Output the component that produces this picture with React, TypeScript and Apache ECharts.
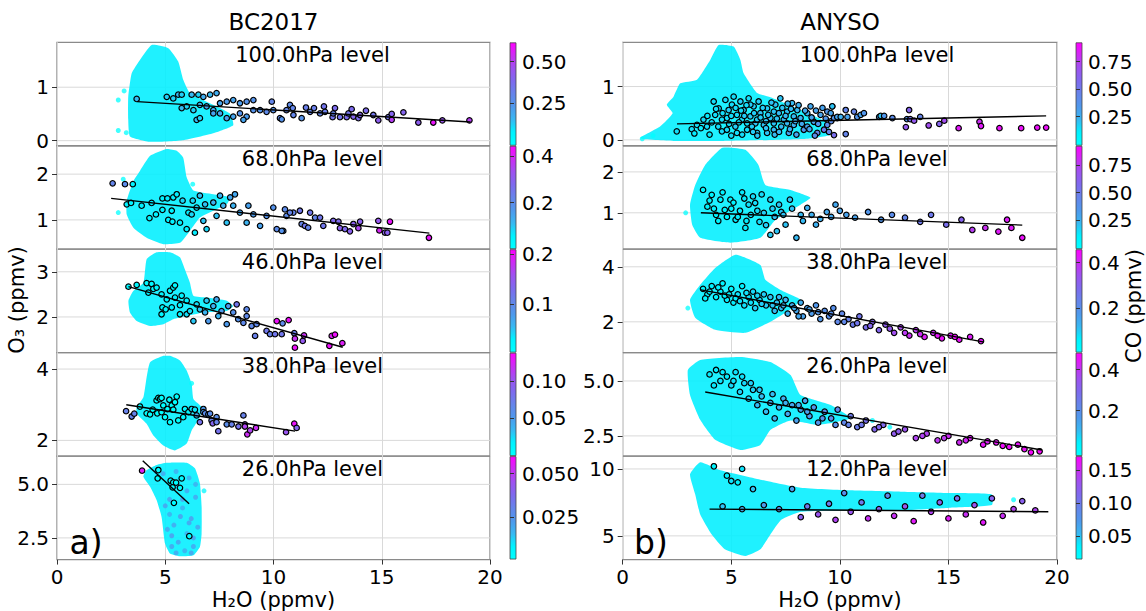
import React, { useEffect, useRef } from 'react';
import * as echarts from 'echarts';

const FONT = 'DejaVu Sans';
const CMAP = ['#00ffff', '#00f2ff', '#38b8f2', '#4f98ec', '#6684ea', '#7e6aee', '#9e52f0', '#cc2cf4', '#ff00ff'];

const TITLES = ['BC2017', 'ANYSO'];
const LEVELS_A = ['100.0hPa level', '68.0hPa level', '46.0hPa level', '38.0hPa level', '26.0hPa level'];
const LEVELS_B = ['100.0hPa level', '68.0hPa level', '38.0hPa level', '26.0hPa level', '12.0hPa level'];
const Y_RANGE_A = [[-0.095, 1.84], [0.36, 2.62], [1.21, 3.5], [1.56, 4.46], [1.49, 6.32]];
const Y_RANGE_B = [[-0.11, 1.83], [0.11, 2.64], [0.88, 4.64], [1.58, 6.29], [3.23, 10.96]];
const Y_TICKS_A = [[0, 1], [1, 2], [2, 3], [2, 4], [2.5, 5]];
const Y_TICKS_B = [[0, 1], [1, 2], [2, 4], [2.5, 5], [5, 10]];
const Y_DIGITS_A = [0, 0, 0, 0, 1];
const Y_DIGITS_B = [0, 0, 0, 1, 0];
const CB_RANGE_A = [[0, 0.613], [0, 0.444], [0.006, 0.208], [0, 0.137], [0.001, 0.0597]];
const CB_RANGE_B = [[-0.01, 0.92], [-0.01, 0.92], [0.009, 0.457], [-0.02, 0.48], [0.015, 0.171]];
const CB_TICKS_A = [[0.25, 0.5], [0.2, 0.4], [0.1, 0.2], [0.05, 0.1], [0.025, 0.05]];
const CB_TICKS_B = [[0.25, 0.5, 0.75], [0.25, 0.5, 0.75], [0.2, 0.4], [0.2, 0.4], [0.05, 0.1, 0.15]];
const CB_DIGITS_A = [2, 1, 1, 2, 3];
const CB_DIGITS_B = [2, 2, 1, 1, 2];

// ---------- BC2017 ----------
const A1_CLOUD = [[4.37, 1.79], [3.83, 1.51], [3.45, 1.26], [3.29, 0.82], [3.29, 0.39], [3.37, 0.08], [4.3, -0.02], [5.83, 0.01], [7.22, 0.14], [8.14, 0.29], [7.99, 0.51], [6.91, 0.73], [6.14, 0.89], [5.83, 1.14], [5.6, 1.48], [5.14, 1.73]];
const A1_SPECK = [[2.83, 0.76, 0], [2.83, 0.19, 0], [3.1, 0.93, 0], [3.2, 0.15, 0]];
const A1_PTS = [[3.68, 0.78, 0.15], [5.07, 0.82, 0.12], [5.37, 0.79, 0.12], [5.6, 0.86, 0.15], [5.76, 0.86, 0.12], [6.22, 0.86, 0.15], [6.53, 0.86, 0.12], [6.76, 0.82, 0.18], [7.07, 0.86, 0.15], [7.37, 0.89, 0.18], [5.99, 0.64, 0.12], [5.76, 0.61, 0.15], [6.3, 0.57, 0.12], [6.6, 0.67, 0.15], [6.91, 0.64, 0.2], [7.22, 0.57, 0.18], [7.53, 0.7, 0.2], [7.84, 0.73, 0.22], [8.14, 0.76, 0.2], [8.45, 0.7, 0.22], [8.76, 0.73, 0.25], [9.07, 0.76, 0.25], [6.45, 0.39, 0.15], [6.6, 0.42, 0.12], [7.22, 0.51, 0.2], [7.53, 0.51, 0.2], [7.84, 0.42, 0.22], [8.14, 0.45, 0.2], [8.45, 0.51, 0.25], [8.76, 0.45, 0.22], [8.61, 0.39, 0.2], [9.07, 0.57, 0.25], [9.38, 0.57, 0.25], [9.68, 0.54, 0.28], [9.99, 0.57, 0.25], [10.3, 0.42, 0.28], [10.6, 0.57, 0.3], [10.76, 0.67, 0.28], [10.92, 0.48, 0.3], [9.92, 0.73, 0.3], [10.38, 0.4, 0.25], [10.89, 0.61, 0.3], [11.3, 0.42, 0.25], [11.5, 0.62, 0.32], [11.69, 0.54, 0.3], [11.87, 0.61, 0.32], [12.15, 0.51, 0.3], [12.33, 0.64, 0.35], [12.38, 0.54, 0.32], [12.73, 0.44, 0.35], [12.76, 0.51, 0.3], [12.84, 0.61, 0.38], [13.07, 0.44, 0.35], [13.38, 0.44, 0.38], [13.46, 0.51, 0.35], [13.61, 0.59, 0.38], [13.69, 0.45, 0.4], [13.92, 0.42, 0.38], [14.0, 0.48, 0.4], [14.27, 0.56, 0.38], [14.61, 0.48, 0.35], [14.84, 0.38, 0.42], [15.3, 0.44, 0.35], [15.46, 0.5, 0.4], [15.46, 0.39, 0.5], [16.0, 0.53, 0.4], [16.69, 0.34, 0.42], [17.38, 0.34, 0.58], [17.8, 0.38, 0.45], [19.05, 0.38, 0.5]];
const A1_LINE = [[3.7, 0.73], [19.1, 0.35]];

const A2_CLOUD = [[5.07, 2.55], [4.3, 2.4], [3.83, 2.07], [3.53, 1.85], [3.22, 1.42], [3.22, 1.12], [3.53, 0.83], [4.14, 0.61], [4.91, 0.47], [5.68, 0.5], [6.14, 0.76], [6.6, 1.05], [7.22, 1.2], [7.84, 1.34], [8.0, 1.49], [7.22, 1.56], [6.3, 1.64], [5.99, 1.93], [5.83, 2.36], [5.53, 2.51]];
const A2_SPECK = [[2.83, 1.16, 0], [3.06, 1.89, 0], [6.27, 1.78, 0]];
const A2_PTS = [[2.57, 1.8, 0.22], [3.14, 1.78, 0.2], [3.5, 1.78, 0.05], [3.22, 1.34, 0.05], [3.42, 1.37, 0.05], [3.91, 1.31, 0.05], [4.37, 1.37, 0.05], [4.27, 1.04, 0.05], [4.57, 1.12, 0.05], [4.87, 1.22, 0.05], [4.87, 1.47, 0.05], [5.1, 1.47, 0.06], [5.14, 1.0, 0.05], [5.33, 0.96, 0.05], [5.3, 1.2, 0.05], [5.37, 1.49, 0.06], [5.53, 1.56, 0.06], [5.68, 0.94, 0.05], [5.8, 1.42, 0.08], [5.99, 0.8, 0.05], [6.07, 1.16, 0.06], [6.22, 1.12, 0.08], [6.37, 0.72, 0.06], [6.27, 1.42, 0.08], [6.45, 1.27, 0.08], [6.6, 1.53, 0.1], [6.76, 0.98, 0.1], [6.91, 0.8, 0.08], [6.84, 1.34, 0.1], [7.22, 1.38, 0.12], [7.37, 1.09, 0.1], [7.53, 1.53, 0.12], [7.68, 1.31, 0.12], [7.84, 0.94, 0.1], [8.0, 1.49, 0.14], [8.14, 1.31, 0.12], [8.22, 1.56, 0.14], [8.45, 1.16, 0.14], [8.76, 0.94, 0.12], [8.84, 1.31, 0.15], [9.07, 1.12, 0.16], [9.38, 0.87, 0.15], [9.68, 1.09, 0.18], [9.99, 1.27, 0.18], [10.15, 0.8, 0.2], [10.45, 0.76, 0.18], [10.6, 1.09, 0.2], [10.92, 1.16, 0.22], [10.38, 0.76, 0.18], [10.53, 1.23, 0.2], [10.76, 1.16, 0.22], [11.22, 1.2, 0.25], [11.3, 0.91, 0.22], [11.45, 0.87, 0.25], [11.6, 0.83, 0.22], [11.69, 1.16, 0.25], [11.92, 1.05, 0.22], [12.15, 1.05, 0.25], [12.3, 0.87, 0.25], [12.76, 0.98, 0.28], [13.0, 0.96, 0.28], [13.07, 0.82, 0.3], [13.3, 0.8, 0.28], [13.53, 0.75, 0.3], [13.69, 0.91, 0.3], [13.92, 0.82, 0.35], [14.0, 0.96, 0.3], [14.84, 0.98, 0.32], [14.89, 0.77, 0.4], [15.15, 0.72, 0.3], [15.26, 0.72, 0.3], [15.38, 0.96, 0.42], [17.18, 0.61, 0.42]];
const A2_LINE = [[2.5, 1.47], [17.2, 0.71]];

const A3_CLOUD = [[4.6, 3.43], [4.14, 3.28], [3.99, 2.76], [3.53, 2.58], [3.3, 2.36], [3.37, 2.1], [3.68, 1.91], [4.3, 1.8], [4.91, 1.84], [5.37, 1.95], [5.99, 2.02], [6.76, 2.1], [7.84, 2.13], [8.14, 2.24], [7.84, 2.36], [6.91, 2.43], [6.3, 2.47], [6.14, 2.76], [5.9, 3.06], [5.68, 3.32], [5.22, 3.43]];
const A3_SPECK = [[4.6, 3.52, 0]];
const A3_PTS = [[3.3, 2.67, 0.02], [3.68, 2.71, 0.02], [4.14, 2.75, 0.02], [4.37, 2.73, 0.02], [4.22, 2.54, 0.02], [4.45, 2.62, 0.02], [4.6, 2.65, 0.02], [4.83, 2.5, 0.02], [5.07, 2.39, 0.02], [4.87, 2.21, 0.02], [4.83, 2.06, 0.02], [5.02, 2.17, 0.02], [5.3, 2.21, 0.03], [5.22, 2.58, 0.02], [5.37, 2.65, 0.02], [5.45, 2.7, 0.02], [5.45, 2.43, 0.03], [5.68, 2.26, 0.03], [5.76, 2.47, 0.03], [5.68, 2.06, 0.03], [5.99, 2.06, 0.04], [6.14, 2.13, 0.04], [5.99, 2.36, 0.03], [6.3, 1.91, 0.05], [6.45, 2.28, 0.04], [6.6, 2.17, 0.05], [6.84, 2.1, 0.06], [6.91, 2.36, 0.05], [6.99, 1.91, 0.08], [7.22, 2.24, 0.06], [7.37, 2.39, 0.07], [7.45, 2.02, 0.06], [7.6, 2.13, 0.08], [7.84, 1.84, 0.08], [7.91, 2.24, 0.08], [8.14, 2.1, 0.09], [8.3, 2.28, 0.12], [8.37, 1.95, 0.09], [8.61, 1.87, 0.1], [8.76, 2.02, 0.1], [8.76, 2.17, 0.1], [8.99, 1.8, 0.1], [9.15, 1.58, 0.11], [9.22, 1.84, 0.1], [9.68, 1.69, 0.12], [9.84, 1.62, 0.11], [10.07, 1.62, 0.12], [10.15, 1.91, 0.2], [10.38, 1.62, 0.12], [10.42, 1.86, 0.1], [10.7, 1.93, 0.2], [10.96, 1.64, 0.11], [10.99, 1.52, 0.18], [10.99, 1.32, 0.2], [11.35, 1.47, 0.15], [11.41, 1.59, 0.18], [12.58, 1.36, 0.2], [12.69, 1.58, 0.19], [12.84, 1.61, 0.2], [13.18, 1.42, 0.19]];
const A3_LINE = [[3.3, 2.67], [13.2, 1.33]];

const A4_CLOUD = [[4.91, 4.37], [4.3, 4.19], [4.14, 3.77], [3.99, 3.21], [3.68, 2.93], [3.68, 2.75], [4.14, 2.47], [4.45, 2.14], [4.91, 1.86], [5.45, 1.72], [5.99, 1.91], [6.22, 2.28], [6.6, 2.65], [6.68, 2.93], [6.3, 3.16], [6.22, 3.58], [5.99, 3.96], [5.68, 4.24], [5.22, 4.37]];
const A4_SPECK = [[6.22, 3.6, 0]];
const A4_PTS = [[3.19, 2.82, 0.07], [3.45, 2.67, 0.07], [3.57, 2.75, 0.07], [3.83, 2.95, 0.0], [4.14, 2.76, 0.0], [4.3, 2.73, 0.0], [4.42, 2.86, 0.0], [4.6, 3.12, 0.0], [4.68, 3.19, 0.0], [4.76, 3.16, 0.0], [4.83, 3.19, 0.0], [4.63, 2.76, 0.0], [4.83, 2.79, 0.0], [4.91, 2.98, 0.0], [4.99, 2.65, 0.0], [5.1, 2.88, 0.0], [5.19, 3.14, 0.0], [5.22, 2.51, 0.0], [5.3, 2.98, 0.0], [5.37, 2.86, 0.0], [5.45, 3.07, 0.0], [5.53, 3.23, 0.0], [5.6, 2.56, 0.0], [5.83, 2.65, 0.01], [5.91, 2.88, 0.01], [6.07, 2.79, 0.01], [6.22, 2.88, 0.02], [6.37, 2.86, 0.02], [6.45, 2.7, 0.04], [6.6, 2.51, 0.08], [6.76, 2.88, 0.05], [6.76, 2.79, 0.05], [6.84, 2.76, 0.06], [6.99, 2.73, 0.05], [7.07, 2.75, 0.06], [7.14, 2.56, 0.07], [7.19, 2.48, 0.09], [7.37, 2.65, 0.06], [7.37, 2.51, 0.07], [7.45, 2.26, 0.08], [7.84, 2.45, 0.06], [8.07, 2.45, 0.07], [8.38, 2.39, 0.08], [8.61, 2.7, 0.07], [8.68, 2.45, 0.1], [8.68, 2.39, 0.11], [8.79, 2.17, 0.12], [8.92, 2.28, 0.11], [9.19, 2.35, 0.12], [10.58, 2.23, 0.1], [10.96, 2.47, 0.13], [11.07, 2.35, 0.09]];
const A4_LINE = [[3.2, 3.0], [11.0, 2.26]];

const A5_CLOUD = [[4.14, 5.67], [4.6, 5.91], [5.07, 6.01], [5.99, 6.01], [6.37, 5.75], [6.6, 5.05], [6.68, 3.95], [6.68, 2.7], [6.6, 2.08], [6.3, 1.69], [5.68, 1.64], [5.22, 1.77], [4.99, 2.24], [4.83, 3.48], [4.6, 4.27], [4.3, 4.89], [3.99, 5.36]];
const A5_SPECK = [[5.2, 4.3, 0.024], [5.8, 3.9, 0.02], [6.2, 3.4, 0.026], [5.4, 3.1, 0.022], [6.0, 2.7, 0.02], [5.6, 2.3, 0.024], [6.3, 2.1, 0.022], [5.9, 1.9, 0.02], [5.3, 2.6, 0.026], [6.4, 4.4, 0.022], [5.0, 4.0, 0.024], [6.1, 5.3, 0.02], [5.5, 5.6, 0.02], [4.9, 5.5, 0.022], [6.5, 3.0, 0.022], [5.7, 3.5, 0.025], [6.0, 4.7, 0.022], [5.2, 3.6, 0.02], [6.3, 2.5, 0.027], [5.5, 1.8, 0.022], [6.4, 5.0, 0.02], [4.6, 5.6, 0.022], [5.8, 4.3, 0.026], [6.2, 1.8, 0.024], [5.1, 2.9, 0.022], [5.6, 4.9, 0.02], [6.1, 3.2, 0.024], [5.3, 2.1, 0.023], [6.79, 4.7, 0.005]];
const A5_PTS = [[3.93, 5.64, 0.055], [4.68, 5.67, 0.003], [4.65, 5.28, 0.003], [5.25, 5.17, 0.003], [5.37, 5.09, 0.003], [5.5, 5.08, 0.003], [5.34, 4.86, 0.003], [5.76, 5.28, 0.003], [5.68, 4.84, 0.003], [5.4, 4.14, 0.003], [6.11, 2.58, 0.003]];
const A5_LINE = [[3.96, 6.1], [6.1, 4.1]];

// ---------- ANYSO ----------
const B1_CLOUD = [[4.42, 1.78], [4.03, 1.5], [3.42, 1.13], [2.65, 1.06], [2.34, 0.81], [2.03, 0.66], [2.3, 0.5], [1.72, 0.25], [0.8, 0.03], [2.34, -0.02], [4.65, -0.02], [6.96, 0.0], [8.5, 0.02], [9.6, 0.1], [9.3, 0.35], [8.0, 0.6], [6.8, 0.8], [6.19, 0.88], [5.57, 1.25], [5.42, 1.5], [5.11, 1.75]];
const B1_SPECK = [[0.9, 0.02, 0], [1.4, 0.08, 0]];
const B1_PTS = [[2.49, 0.16, 0.15], [3.18, 0.2, 0.15], [3.42, 0.28, 0.15], [3.72, 0.38, 0.15], [3.88, 0.25, 0.15], [4.19, 0.72, 0.15], [4.26, 0.47, 0.15], [4.42, 0.59, 0.15], [4.57, 0.16, 0.15], [4.73, 0.75, 0.15], [4.8, 0.41, 0.15], [4.88, 0.56, 0.18], [5.03, 0.66, 0.15], [5.11, 0.81, 0.15], [5.19, 0.25, 0.18], [5.26, 0.47, 0.15], [5.42, 0.72, 0.18], [5.49, 0.38, 0.15], [5.57, 0.56, 0.18], [5.73, 0.19, 0.15], [5.8, 0.78, 0.15], [5.88, 0.44, 0.18], [6.03, 0.63, 0.18], [6.11, 0.31, 0.2], [6.19, 0.13, 0.18], [6.26, 0.72, 0.18], [6.34, 0.5, 0.2], [6.5, 0.28, 0.2], [6.65, 0.59, 0.18], [6.8, 0.41, 0.2], [6.96, 0.19, 0.22], [7.03, 0.66, 0.2], [7.19, 0.5, 0.22], [7.26, 0.78, 0.2], [7.42, 0.38, 0.22], [7.57, 0.53, 0.2], [7.65, 0.13, 0.3], [7.8, 0.69, 0.22], [7.88, 0.28, 0.25], [8.04, 0.56, 0.22], [8.19, 0.41, 0.25], [8.34, 0.19, 0.35], [8.5, 0.5, 0.25], [8.65, 0.63, 0.28], [8.8, 0.34, 0.3], [8.96, 0.13, 0.45], [9.11, 0.47, 0.3], [9.27, 0.19, 0.5], [9.42, 0.53, 0.35], [9.65, 0.63, 0.3], [9.73, 0.09, 0.55], [9.88, 0.41, 0.45], [9.42, 0.28, 0.4], [5.73, 0.31, 0.15], [4.8, 0.19, 0.15], [6.96, 0.31, 0.2], [6.19, 0.38, 0.18], [7.57, 0.31, 0.22], [8.5, 0.25, 0.3], [6.96, 0.53, 0.2], [5.26, 0.13, 0.15], [6.65, 0.13, 0.2], [7.88, 0.44, 0.22], [5.88, 0.66, 0.18], [4.57, 0.38, 0.15], [3.3, 0.12, 0.12], [3.6, 0.22, 0.12], [4.0, 0.1, 0.12], [4.1, 0.33, 0.15], [4.4, 0.25, 0.15], [4.6, 0.5, 0.15], [4.9, 0.3, 0.15], [5.0, 0.08, 0.15], [5.2, 0.6, 0.15], [5.35, 0.33, 0.15], [5.5, 0.1, 0.15], [5.6, 0.45, 0.18], [5.7, 0.65, 0.15], [5.95, 0.25, 0.18], [6.05, 0.5, 0.18], [6.2, 0.08, 0.2], [6.35, 0.42, 0.18], [6.45, 0.6, 0.18], [6.6, 0.22, 0.2], [6.7, 0.47, 0.2], [6.85, 0.7, 0.2], [7.0, 0.1, 0.22], [7.1, 0.4, 0.2], [7.3, 0.25, 0.22], [7.35, 0.6, 0.2], [7.5, 0.45, 0.22], [7.7, 0.2, 0.25], [7.75, 0.58, 0.22], [7.95, 0.35, 0.25], [8.1, 0.65, 0.25], [8.25, 0.3, 0.28], [8.4, 0.55, 0.28], [8.6, 0.2, 0.3], [8.7, 0.42, 0.3], [8.9, 0.55, 0.3], [9.0, 0.3, 0.35], [9.2, 0.6, 0.3], [9.35, 0.4, 0.35], [9.5, 0.15, 0.45], [9.6, 0.35, 0.4], [5.0, 0.45, 0.15], [5.45, 0.55, 0.15], [6.6, 0.35, 0.2], [7.2, 0.15, 0.22], [8.0, 0.1, 0.3], [4.3, 0.58, 0.15], [3.9, 0.45, 0.12], [6.0, 0.15, 0.18], [7.6, 0.68, 0.22], [8.85, 0.08, 0.4], [9.58, 0.5, 0.3], [9.65, 0.63, 0.2], [9.73, 0.41, 0.35], [9.88, 0.43, 0.3], [10.04, 0.43, 0.25], [10.27, 0.56, 0.45], [10.27, 0.11, 0.45], [10.35, 0.43, 0.3], [10.65, 0.53, 0.45], [10.8, 0.43, 0.35], [10.96, 0.47, 0.3], [11.11, 0.5, 0.35], [11.81, 0.43, 0.35], [11.88, 0.45, 0.2], [12.04, 0.45, 0.35], [12.42, 0.41, 0.4], [13.04, 0.24, 0.65], [13.09, 0.39, 0.35], [13.19, 0.56, 0.6], [13.24, 0.39, 0.55], [13.42, 0.36, 0.65], [13.7, 0.43, 0.45], [14.09, 0.27, 0.7], [14.58, 0.3, 0.6], [14.81, 0.36, 0.7], [15.47, 0.22, 0.85], [16.43, 0.34, 0.8], [16.5, 0.26, 0.85], [17.35, 0.22, 0.88], [18.35, 0.22, 0.88], [19.09, 0.23, 0.88], [19.5, 0.23, 0.88]];
const B1_LINE = [[2.5, 0.3], [19.5, 0.45]];

const B2_CLOUD = [[4.59, 2.59], [3.8, 2.17], [3.34, 1.68], [3.1, 1.2], [3.2, 0.71], [3.57, 0.39], [4.96, 0.27], [6.34, 0.39], [7.04, 0.83], [8.19, 1.2], [8.65, 1.37], [7.73, 1.56], [6.57, 1.68], [6.25, 2.17], [5.65, 2.54]];
const B2_SPECK = [[2.9, 1.0, 0]];
const B2_PTS = [[3.7, 1.56, 0.08], [4.1, 1.44, 0.08], [4.5, 1.32, 0.1], [3.9, 1.15, 0.08], [4.3, 0.95, 0.1], [4.7, 1.07, 0.1], [5.2, 0.83, 0.12], [4.96, 1.32, 0.1], [5.5, 1.5, 0.12], [5.9, 0.95, 0.15], [5.65, 0.63, 0.12], [6.1, 1.24, 0.15], [6.3, 0.78, 0.15], [6.8, 1.32, 0.18], [6.8, 0.46, 0.18], [7.3, 1.02, 0.2], [7.5, 0.71, 0.2], [7.7, 1.32, 0.2], [8.0, 0.39, 0.22], [8.2, 0.95, 0.22], [8.5, 1.12, 0.25], [8.9, 0.71, 0.25], [9.4, 1.02, 0.28], [9.8, 1.2, 0.28], [10.3, 0.95, 0.3], [10.7, 0.88, 0.3], [11.3, 1.02, 0.35], [11.9, 0.83, 0.35], [12.4, 0.95, 0.4], [13.0, 0.88, 0.45], [13.7, 0.78, 0.5], [14.2, 0.95, 0.5], [14.9, 0.71, 0.55], [15.6, 0.83, 0.6], [16.1, 0.58, 0.75], [16.7, 0.63, 0.8], [17.3, 0.54, 0.85], [17.9, 0.63, 0.85], [18.4, 0.39, 0.88], [17.7, 0.83, 0.85], [5.0, 1.1, 0.1], [5.3, 0.9, 0.12], [6.0, 1.4, 0.15], [6.5, 1.0, 0.18], [7.0, 0.9, 0.2], [4.4, 0.8, 0.1], [5.8, 1.2, 0.14], [7.2, 1.2, 0.2], [4.0, 1.3, 0.08], [4.2, 1.1, 0.08], [4.6, 1.5, 0.1], [4.8, 0.9, 0.1], [5.1, 1.25, 0.1], [5.4, 1.05, 0.12], [5.6, 1.35, 0.12], [5.7, 0.8, 0.12], [6.2, 1.05, 0.15], [6.4, 1.45, 0.15], [6.6, 0.7, 0.18], [6.9, 1.1, 0.18], [7.1, 0.55, 0.2], [7.4, 0.95, 0.2], [7.8, 1.1, 0.2], [8.3, 0.8, 0.22], [8.7, 0.95, 0.25], [9.1, 0.85, 0.25], [9.6, 0.9, 0.28], [10.0, 1.05, 0.3]];
const B2_LINE = [[3.6, 1.0], [18.4, 0.7]];

const B3_CLOUD = [[5.2, 4.44], [4.26, 3.96], [3.57, 3.35], [3.1, 2.8], [3.34, 2.15], [4.26, 1.71], [5.65, 1.6], [6.8, 2.0], [7.7, 2.44], [8.2, 2.8], [7.27, 3.16], [6.57, 3.53], [6.34, 4.07]];
const B3_SPECK = [[3.0, 2.5, 0]];
const B3_PTS = [[3.7, 3.2, 0.05], [3.9, 3.0, 0.05], [4.1, 3.3, 0.06], [4.3, 2.9, 0.05], [4.5, 3.1, 0.06], [4.6, 3.4, 0.05], [4.8, 2.8, 0.07], [5.0, 3.2, 0.06], [5.1, 2.7, 0.07], [5.3, 3.0, 0.08], [5.5, 3.3, 0.06], [5.6, 2.6, 0.08], [5.8, 2.9, 0.08], [6.0, 3.1, 0.09], [6.1, 2.5, 0.1], [6.3, 2.8, 0.09], [6.5, 3.0, 0.1], [6.6, 2.6, 0.1], [6.8, 2.9, 0.11], [7.0, 2.4, 0.12], [7.1, 2.7, 0.11], [7.3, 2.5, 0.12], [7.5, 2.8, 0.13], [7.6, 2.3, 0.13], [7.8, 2.6, 0.14], [8.0, 2.4, 0.15], [8.2, 2.7, 0.14], [8.3, 2.2, 0.16], [8.5, 2.5, 0.16], [8.7, 2.3, 0.17], [8.9, 2.6, 0.18], [9.1, 2.1, 0.18], [9.3, 2.4, 0.2], [9.5, 2.2, 0.2], [9.7, 2.5, 0.2], [9.9, 2.0, 0.22], [10.1, 2.3, 0.22], [10.4, 2.1, 0.24], [10.6, 1.9, 0.25], [10.9, 2.2, 0.26], [11.2, 1.8, 0.28], [11.5, 2.0, 0.3], [11.8, 1.7, 0.3], [12.1, 1.9, 0.32], [12.5, 1.6, 0.35], [12.8, 1.8, 0.36], [13.2, 1.5, 0.4], [13.5, 1.7, 0.38], [13.9, 1.45, 0.42], [14.3, 1.6, 0.4], [14.7, 1.4, 0.44], [15.1, 1.5, 0.42], [15.5, 1.35, 0.44], [16.0, 1.45, 0.42], [16.5, 1.3, 0.43], [3.8, 2.85, 0.05], [4.0, 3.1, 0.05], [4.4, 3.25, 0.05], [4.7, 2.95, 0.06], [4.9, 3.0, 0.06], [5.2, 2.85, 0.07], [5.4, 2.75, 0.08], [5.7, 3.05, 0.08], [5.9, 2.7, 0.08], [6.2, 2.95, 0.09], [6.4, 2.65, 0.1], [6.9, 2.6, 0.11], [7.2, 2.9, 0.12], [7.4, 2.6, 0.13], [7.9, 2.5, 0.14], [8.1, 2.2, 0.15], [8.6, 2.45, 0.16], [9.0, 2.35, 0.18], [9.6, 2.3, 0.2], [10.2, 2.0, 0.22], [10.8, 1.95, 0.26], [11.4, 1.85, 0.3], [12.3, 1.75, 0.33], [13.0, 1.6, 0.38], [13.7, 1.55, 0.4], [14.5, 1.5, 0.43], [15.3, 1.45, 0.44]];
const B3_LINE = [[3.6, 3.16], [16.6, 1.27]];

const B4_CLOUD = [[3.57, 5.95], [5.42, 6.09], [6.8, 5.86], [7.73, 5.27], [8.19, 4.36], [9.6, 3.9], [10.5, 3.3], [9.0, 3.0], [7.73, 3.2], [6.8, 2.77], [6.34, 2.09], [5.42, 1.86], [4.26, 2.32], [3.57, 3.23], [3.1, 4.36], [3.0, 5.5]];
const B4_SPECK = [[11.5, 3.2, 0], [12.3, 2.9, 0]];
const B4_PTS = [[4.0, 5.3, 0.05], [4.3, 5.5, 0.05], [4.5, 5.0, 0.06], [4.8, 5.2, 0.05], [5.0, 4.8, 0.07], [5.2, 5.4, 0.06], [5.4, 4.5, 0.08], [5.6, 4.9, 0.07], [5.8, 4.2, 0.08], [6.0, 4.6, 0.08], [6.2, 3.9, 0.1], [6.4, 4.3, 0.1], [6.6, 3.6, 0.1], [6.8, 4.0, 0.12], [7.0, 3.3, 0.12], [7.2, 3.8, 0.12], [7.4, 4.2, 0.12], [7.6, 3.5, 0.14], [7.8, 3.9, 0.14], [8.0, 3.2, 0.15], [8.2, 3.7, 0.15], [8.4, 4.1, 0.15], [8.6, 3.4, 0.16], [8.8, 3.8, 0.17], [9.0, 3.1, 0.18], [9.3, 3.6, 0.2], [9.6, 3.3, 0.2], [9.9, 3.7, 0.22], [10.2, 3.1, 0.22], [10.5, 3.4, 0.25], [10.8, 2.9, 0.25], [11.2, 3.2, 0.28], [11.6, 2.8, 0.3], [12.0, 3.0, 0.3], [12.5, 2.6, 0.33], [13.0, 2.8, 0.35], [13.5, 2.4, 0.38], [14.0, 2.6, 0.38], [14.5, 2.3, 0.4], [15.0, 2.5, 0.42], [15.5, 2.2, 0.42], [16.0, 2.4, 0.44], [16.6, 2.1, 0.45], [17.2, 2.2, 0.45], [17.8, 2.0, 0.46], [18.5, 1.9, 0.46], [19.2, 1.8, 0.47], [4.2, 4.8, 0.05], [4.6, 5.4, 0.05], [5.1, 5.0, 0.06], [5.5, 5.2, 0.06], [5.9, 4.9, 0.08], [6.3, 4.6, 0.09], [6.9, 4.4, 0.1], [7.5, 4.0, 0.12], [8.1, 3.9, 0.14], [8.5, 3.6, 0.15], [9.2, 3.3, 0.18], [9.8, 3.0, 0.2], [10.4, 3.0, 0.23], [11.0, 3.0, 0.26], [11.8, 2.9, 0.3], [12.7, 2.7, 0.33], [13.8, 2.5, 0.38], [14.8, 2.4, 0.4], [15.8, 2.3, 0.43], [16.8, 2.25, 0.44], [17.5, 2.05, 0.46], [18.2, 2.1, 0.45], [18.8, 1.75, 0.47]];
const B4_LINE = [[3.8, 4.5], [19.3, 1.86]];

const B5_CLOUD = [[3.57, 10.5], [4.5, 9.9], [6.34, 9.2], [8.2, 8.6], [10.5, 8.4], [12.8, 8.3], [15.1, 8.2], [17.0, 8.1], [17.0, 7.3], [15.1, 7.1], [12.8, 6.9], [10.5, 6.9], [8.2, 6.8], [7.3, 6.2], [6.8, 5.1], [6.34, 4.0], [5.65, 3.5], [4.7, 4.0], [4.1, 5.1], [3.57, 6.6], [3.34, 8.1], [3.1, 9.6]];
const B5_SPECK = [[18.0, 7.7, 0]];
const B5_PTS = [[4.2, 10.2, 0.03], [4.8, 9.5, 0.03], [5.0, 9.1, 0.04], [5.3, 9.0, 0.03], [5.5, 10.0, 0.04], [6.0, 8.5, 0.05], [4.6, 7.2, 0.05], [5.5, 7.0, 0.06], [6.5, 7.3, 0.07], [7.2, 7.0, 0.08], [7.8, 8.5, 0.07], [8.2, 6.4, 0.12], [8.5, 7.2, 0.1], [9.0, 6.6, 0.13], [9.5, 7.4, 0.1], [9.8, 6.2, 0.14], [10.2, 8.2, 0.08], [10.5, 6.8, 0.13], [11.0, 7.5, 0.1], [11.3, 6.3, 0.15], [11.8, 7.0, 0.12], [12.2, 8.0, 0.09], [12.5, 6.5, 0.15], [13.0, 7.2, 0.13], [13.4, 6.1, 0.16], [13.8, 8.0, 0.1], [14.2, 6.8, 0.14], [14.6, 7.5, 0.12], [15.0, 6.3, 0.16], [15.4, 7.8, 0.11], [15.8, 6.6, 0.15], [16.2, 7.3, 0.13], [16.6, 6.0, 0.16], [17.0, 7.8, 0.12], [17.5, 6.5, 0.15], [18.0, 7.0, 0.14], [18.4, 7.6, 0.12], [19.0, 6.9, 0.14]];
const B5_LINE = [[4.0, 7.0], [19.6, 6.8]];

const CLOUDS = [A1_CLOUD, A2_CLOUD, A3_CLOUD, A4_CLOUD, A5_CLOUD, B1_CLOUD, B2_CLOUD, B3_CLOUD, B4_CLOUD, B5_CLOUD];
const SPECKS = [A1_SPECK, A2_SPECK, A3_SPECK, A4_SPECK, A5_SPECK, B1_SPECK, B2_SPECK, B3_SPECK, B4_SPECK, B5_SPECK];
const POINTS = [A1_PTS, A2_PTS, A3_PTS, A4_PTS, A5_PTS, B1_PTS, B2_PTS, B3_PTS, B4_PTS, B5_PTS];
const LINES = [A1_LINE, A2_LINE, A3_LINE, A4_LINE, A5_LINE, B1_LINE, B2_LINE, B3_LINE, B4_LINE, B5_LINE];

function buildOption() {
  const COL_LEFT = [57, 622.7];
  const PLOT_W = [433, 434.3];
  const CB_LEFT = [510, 1076];
  const CB_W = 6;
  const TOP0 = 42.3;
  const ROW_H = 103.45;
  const grid: any[] = [];
  const xAxis: any[] = [];
  const yAxis: any[] = [];
  const series: any[] = [];
  const visualMap: any[] = [];
  const graphic: any[] = [];
  const grad = { type: 'linear', x: 0, y: 1, x2: 0, y2: 0, colorStops: CMAP.map((c, k) => ({ offset: k / (CMAP.length - 1), color: c })) };
  const labelStyle = { fontSize: 20, color: '#000', fontFamily: FONT };

  for (let k = 0; k < 10; k++) {
    const col = k < 5 ? 0 : 1;
    const row = k % 5;
    const top = TOP0 + row * ROW_H;
    const yr = col ? Y_RANGE_B[row] : Y_RANGE_A[row];
    const yt = col ? Y_TICKS_B[row] : Y_TICKS_A[row];
    const yd = col ? Y_DIGITS_B[row] : Y_DIGITS_A[row];
    grid.push({ left: COL_LEFT[col], top, width: PLOT_W[col], height: ROW_H, show: true, borderColor: '#8a8a8a', borderWidth: 1.3, backgroundColor: 'transparent' });
    xAxis.push({
      gridIndex: k, type: 'value', min: 0, max: 20, interval: 5,
      axisLine: { show: false },
      axisTick: { show: row === 4, length: 5, lineStyle: { color: '#333' } },
      axisLabel: { show: row === 4, margin: 7, ...labelStyle },
      splitLine: { show: true, lineStyle: { color: '#d9d9d9', width: 1 } },
    });
    yAxis.push({
      gridIndex: k, type: 'value', min: yr[0], max: yr[1],
      axisLine: { show: false },
      axisTick: { show: true, length: 5, customValues: yt, lineStyle: { color: '#333' } },
      axisLabel: { customValues: yt, margin: 8, formatter: (v: number) => v.toFixed(yd), ...labelStyle },
      splitLine: { show: false },
    });
  }
  for (let k = 0; k < 10; k++) {
    const col = k < 5 ? 0 : 1;
    const row = k % 5;
    const top = TOP0 + row * ROW_H;
    const cr = col ? CB_RANGE_B[row] : CB_RANGE_A[row];
    const ct = col ? CB_TICKS_B[row] : CB_TICKS_A[row];
    const cd = col ? CB_DIGITS_B[row] : CB_DIGITS_A[row];
    grid.push({ left: CB_LEFT[col], top: top + 0.5, width: CB_W, height: ROW_H - 1, show: true, borderColor: '#444', borderWidth: 0.8, backgroundColor: grad });
    xAxis.push({ gridIndex: 10 + k, type: 'value', min: 0, max: 1, show: false });
    yAxis.push({
      gridIndex: 10 + k, type: 'value', position: 'right', min: cr[0], max: cr[1],
      axisLine: { show: false },
      axisTick: { show: true, length: 4, customValues: ct, lineStyle: { color: '#333' } },
      axisLabel: { customValues: ct, margin: 6, formatter: (v: number) => v.toFixed(cd), ...labelStyle },
      splitLine: { show: false },
    });
  }

  for (let k = 0; k < 10; k++) {
    const col = k < 5 ? 0 : 1;
    const row = k % 5;
    const yt = col ? Y_TICKS_B[row] : Y_TICKS_A[row];
    const cr = col ? CB_RANGE_B[row] : CB_RANGE_A[row];
    const cloud = CLOUDS[k];
    series.push({
      type: 'custom', xAxisIndex: k, yAxisIndex: k, clip: true, z: 1, silent: true,
      data: cloud,
      renderItem: (params: any, api: any) => {
        if (params.dataIndex !== 0) return null;
        const children: any[] = [];
        yt.forEach((t: number) => {
          const a = api.coord([0, t]);
          const b = api.coord([20, t]);
          children.push({ type: 'line', shape: { x1: a[0], y1: a[1], x2: b[0], y2: b[1] }, style: { stroke: '#d9d9d9', lineWidth: 1 } });
        });
        children.push({
          type: 'polygon', shape: { points: cloud.map((p) => api.coord(p)), smooth: 0.15 },
          style: { fill: '#00efff', opacity: 0.88 },
        });
        return { type: 'group', children };
      },
    });
    const speckIdx = series.length;
    series.push({
      type: 'scatter', xAxisIndex: k, yAxisIndex: k, z: 2, symbolSize: 5, silent: true,
      data: SPECKS[k], itemStyle: { opacity: 0.75 },
    });
    const ptsIdx = series.length;
    series.push({
      type: 'scatter', xAxisIndex: k, yAxisIndex: k, z: 3, symbolSize: 5.5, silent: true,
      data: POINTS[k], itemStyle: { borderColor: '#000', borderWidth: 1.2, opacity: 1 },
    });
    series.push({
      type: 'line', xAxisIndex: k, yAxisIndex: k, z: 4, symbol: 'none', silent: true,
      data: LINES[k], lineStyle: { color: '#000', width: 1.4 },
    });
    visualMap.push({
      type: 'continuous', show: false, min: cr[0], max: cr[1], dimension: 2,
      seriesIndex: [speckIdx, ptsIdx], inRange: { color: CMAP },
    });

    const level = col ? LEVELS_B[row] : LEVELS_A[row];
    const cx = col ? 877 : 312.5;
    graphic.push({
      type: 'text', x: cx, y: TOP0 + row * ROW_H + 13, z: 10,
      style: { text: level, font: `21px "${FONT}"`, fill: '#000', align: 'center', verticalAlign: 'middle', textAlign: 'center', textVerticalAlign: 'middle' },
    });
  }

  const txt = (text: string, x: number, y: number, size: number, rotation = 0) => ({
    type: 'text', x, y, rotation, z: 10,
    style: { text, font: `${size}px "${FONT}"`, fill: '#000', align: 'center', verticalAlign: 'middle', textAlign: 'center', textVerticalAlign: 'middle' },
  });
  graphic.push(txt(TITLES[0], 273.5, 22, 23));
  graphic.push(txt(TITLES[1], 840, 22, 23));
  graphic.push(txt('H₂O (ppmv)', 273.5, 600, 21));
  graphic.push(txt('H₂O (ppmv)', 840, 600, 21));
  graphic.push(txt('O₃ (ppmv)', 17, 300, 21, Math.PI / 2));
  graphic.push(txt('CO (ppmv)', 1134, 306, 21, Math.PI / 2));
  graphic.push(txt('a)', 86, 542, 33));
  graphic.push(txt('b)', 651, 542, 33));

  return { animation: false, backgroundColor: '#fff', grid, xAxis, yAxis, series, visualMap, graphic };
}

export default function App() {
  const ref = useRef<HTMLDivElement>(null);
  useEffect(() => {
    if (!ref.current) return;
    const chart = echarts.init(ref.current, null, { renderer: 'svg' });
    chart.setOption(buildOption() as any);
    return () => chart.dispose();
  }, []);
  return <div ref={ref} style={{ position: 'fixed', left: 0, top: 0, width: 1146, height: 611 }} />;
}
